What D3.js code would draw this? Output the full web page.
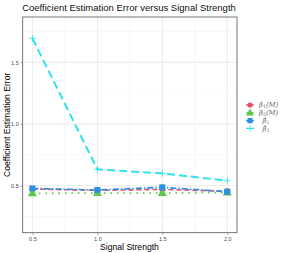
<!DOCTYPE html>
<html>
<head>
<meta charset="utf-8">
<script src="https://cdn.jsdelivr.net/npm/d3@7"></script>
<style>
  body { margin: 0; background: #fff; }
  text { font-family: "Liberation Sans", Arial, sans-serif; }
</style>
</head>
<body>
<svg id="chart" width="293" height="253"></svg>
<script>
var signal = [0.5, 1.0, 1.5, 2.0];
var beta1M = [0.473, 0.462, 0.470, 0.455];
var beta2M = [0.438, 0.440, 0.440, 0.445];
var beta1Hat = [0.478, 0.465, 0.487, 0.451];
var beta2Hat = [1.694, 0.633, 0.600, 0.540];
var xTicks = [0.5, 1.0, 1.5, 2.0];
var yTicks = [0.5, 1.0, 1.5];

var series = [
  { name: "beta1M", label: ["β", "1", "(M)", false], values: beta1M, color: "#e8506b", dash: "5,3", shape: "circle", width: 1.6 },
  { name: "beta2M", label: ["β", "2", "(M)", false], values: beta2M, color: "#5cc94c", dash: "1.5,5", shape: "triangle", width: 1.8 },
  { name: "beta1Hat", label: ["β", "1", "", true], values: beta1Hat, color: "#2b8fe3", dash: "6,2,1.5,2", shape: "square", width: 1.6 },
  { name: "beta2Hat", label: ["β", "2", "", true], values: beta2Hat, color: "#2ee3ea", dash: "8,4", shape: "plus", width: 2 }
];

var svg = d3.select("#chart");
var panel = { left: 22.7, right: 237, top: 17, bottom: 232.7 };

var x = d3.scaleLinear().domain([0.425, 2.075]).range([panel.left, panel.right]);
var y = d3.scaleLinear().domain([0.119, 1.867]).range([panel.bottom, panel.top]);

/* grid */
var minorX = [0.75, 1.25, 1.75];
var minorY = [0.25, 0.75, 1.25, 1.75];
var grid = svg.append("g");
grid.selectAll(".mx").data(minorX).enter().append("line")
  .attr("x1", d => x(d)).attr("x2", d => x(d))
  .attr("y1", panel.top).attr("y2", panel.bottom)
  .attr("stroke", "#f2f2f2").attr("stroke-width", 0.5);
grid.selectAll(".my").data(minorY).enter().append("line")
  .attr("y1", d => y(d)).attr("y2", d => y(d))
  .attr("x1", panel.left).attr("x2", panel.right)
  .attr("stroke", "#f2f2f2").attr("stroke-width", 0.5);
grid.selectAll(".gx").data(xTicks).enter().append("line")
  .attr("x1", d => x(d)).attr("x2", d => x(d))
  .attr("y1", panel.top).attr("y2", panel.bottom)
  .attr("stroke", "#ebebeb").attr("stroke-width", 1);
grid.selectAll(".gy").data(yTicks).enter().append("line")
  .attr("y1", d => y(d)).attr("y2", d => y(d))
  .attr("x1", panel.left).attr("x2", panel.right)
  .attr("stroke", "#ebebeb").attr("stroke-width", 1);

/* lines */
var line = d3.line().x((d, i) => x(signal[i])).y(d => y(d));
series.forEach(s => {
  svg.append("path")
    .attr("d", line(s.values))
    .attr("fill", "none")
    .attr("stroke", s.color)
    .attr("stroke-width", s.width)
    .attr("stroke-dasharray", s.dash);
});

function drawShape(g, shape, color, cx, cy, r) {
  if (shape === "circle") {
    g.append("circle").attr("cx", cx).attr("cy", cy).attr("r", r).attr("fill", color);
  } else if (shape === "triangle") {
    g.append("path").attr("d", d3.symbol().type(d3.symbolTriangle).size(r * r * 4)())
      .attr("transform", "translate(" + cx + "," + (cy + 0.3) + ")").attr("fill", color);
  } else if (shape === "square") {
    g.append("rect").attr("x", cx - r).attr("y", cy - r).attr("width", 2 * r).attr("height", 2 * r).attr("fill", color);
  } else {
    g.append("path").attr("d", "M" + (cx - r - 0.5) + "," + cy + "H" + (cx + r + 0.5) + "M" + cx + "," + (cy - r - 0.5) + "V" + (cy + r + 0.5))
      .attr("stroke", color).attr("stroke-width", 0.8).attr("fill", "none");
  }
}

/* points */
var pts = svg.append("g");
series.forEach(s => {
  s.values.forEach((v, i) => {
    drawShape(pts, s.shape, s.color, x(signal[i]), y(v), 3);
  });
});

/* panel border */
svg.append("rect")
  .attr("x", panel.left).attr("y", panel.top)
  .attr("width", panel.right - panel.left).attr("height", panel.bottom - panel.top)
  .attr("fill", "none").attr("stroke", "#555").attr("stroke-width", 0.8);

/* axes */
var xAxis = svg.append("g")
  .attr("transform", "translate(0," + panel.bottom + ")")
  .call(d3.axisBottom(x).tickValues(xTicks).tickFormat(d3.format(".1f")).tickSize(2).tickPadding(2));
var yAxis = svg.append("g")
  .attr("transform", "translate(" + panel.left + ",0)")
  .call(d3.axisLeft(y).tickValues(yTicks).tickFormat(d3.format(".1f")).tickSize(2).tickPadding(2));
[xAxis, yAxis].forEach(a => {
  a.select(".domain").remove();
  a.selectAll(".tick line").attr("stroke", "#555").attr("stroke-width", 0.6);
  a.selectAll(".tick text").attr("fill", "#4d4d4d").style("font-size", "5.5px")
    .style("font-family", "Liberation Sans, Arial, sans-serif");
});

/* titles */
svg.append("text").attr("x", 129).attr("y", 10.5).attr("text-anchor", "middle")
  .style("font-size", "9.5px").attr("fill", "#111")
  .text("Coefficient Estimation Error versus Signal Strength");
svg.append("text").attr("x", 129.5).attr("y", 250).attr("text-anchor", "middle")
  .style("font-size", "8.6px").attr("fill", "#000").text("Signal Strength");
svg.append("text").attr("transform", "translate(10," + ((panel.top + panel.bottom) / 2) + ") rotate(-90)")
  .attr("text-anchor", "middle").style("font-size", "8.6px").attr("fill", "#000")
  .text("Coefficient Estimation Error");

/* legend */
var legend = svg.append("g");
series.forEach((s, i) => {
  var ly = 105 + i * 7.8;
  drawShape(legend, s.shape, s.color, 250, ly, 2.6);
  legend.append("line").attr("x1", 246).attr("x2", 254).attr("y1", ly).attr("y2", ly)
    .attr("stroke", s.color).attr("stroke-width", 1.2);
  var t = legend.append("text")
    .attr("x", s.label[3] ? 262.5 : 259).attr("y", ly + 2.2)
    .style("font-family", "DejaVu Serif, serif").style("font-style", "italic")
    .style("font-size", "6.8px").attr("fill", "#666");
  t.append("tspan").text(s.label[3] ? "β\u0302" : "β");
  t.append("tspan").attr("dy", 0.9).style("font-size", "4.6px").style("font-style", "normal").text(s.label[1]);
  if (s.label[2]) {
    t.append("tspan").attr("dy", -0.9).text(s.label[2]);
  }
});
</script>
</body>
</html>
